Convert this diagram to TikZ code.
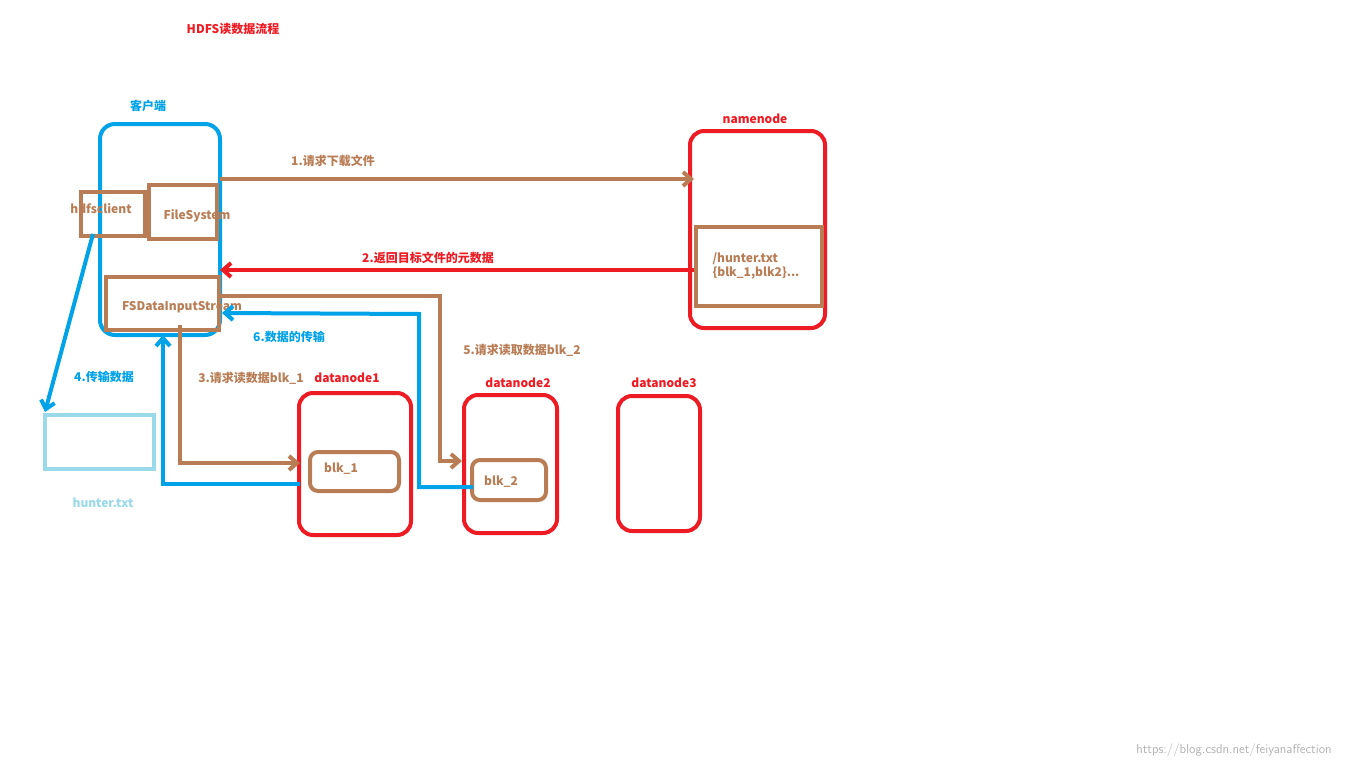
\documentclass[tikz,border=0pt]{standalone}
\usepackage{fontspec}
\setmainfont{Liberation Mono}
\newfontfamily\cjk{Noto Sans CJK SC}
\usetikzlibrary{arrows.meta}
\definecolor{br}{RGB}{185,125,85}
\definecolor{bl}{RGB}{0,162,232}
\definecolor{rd}{RGB}{237,28,36}
\definecolor{lb}{RGB}{153,217,234}
\begin{document}
\begin{tikzpicture}[x=1pt,y=-1pt,
 lbl/.style={font=\cjk\bfseries\fontsize{12}{14}\selectfont,inner sep=0pt},
 bx/.style={draw=br,line width=4pt},
 rbox/.style={draw=rd,line width=4pt,rounded corners=14pt},
 arr/.style={line width=4pt,-{Straight Barb[length=8pt,width=14pt]}}]
\useasboundingbox[fill=white] (0,0) rectangle (1366,768);
\node[lbl,text=rd] (title) at (233,29) {HDFS读数据流程};
\node[lbl,text=bl] (clab) at (148,106) {客户端};
\draw[draw=bl,line width=4pt,rounded corners=15pt] (100,124) rectangle (220,335);
\node[bx,minimum width=64pt,minimum height=44pt] (hc) at (113,214) {};
\node[lbl,text=br] at (101,209) {hdfsclient};
\node[bx,minimum width=68pt,minimum height=54pt] (fs) at (183,212) {};
\node[lbl,text=br] at (197,216) {FileSystem};
\node[bx,minimum width=113pt,minimum height=53pt] (fsd) at (162.5,303.5) {};
\node[lbl,text=br] at (182,307) {FSDataInputStream};
\node[rbox,minimum width=135pt,minimum height=197pt] (nn) at (757.5,229.5) {};
\node[lbl,text=rd] at (755,119) {namenode};
\node[bx,minimum width=126pt,minimum height=79pt] (ht) at (759,266.5) {};
\node[lbl,text=br,align=left] at (756,266) {/hunter.txt\\{\{}blk\_1,blk2{\}}...};
\node[rbox,minimum width=112pt,minimum height=142pt] (d1) at (355,464) {};
\node[lbl,text=rd] at (347,378) {datanode1};
\node[bx,rounded corners=8pt,minimum width=89pt,minimum height=39pt] (b1) at (354.5,471.5) {};
\node[lbl,text=br] at (341,469) {blk\_1};
\node[rbox,minimum width=93pt,minimum height=138pt] (d2) at (510.5,464) {};
\node[lbl,text=rd] at (518,383) {datanode2};
\node[bx,rounded corners=8pt,minimum width=74pt,minimum height=40pt] (b2) at (509,480) {};
\node[lbl,text=br] at (501,482) {blk\_2};
\node[rbox,minimum width=82pt,minimum height=135pt] (d3) at (659,463.5) {};
\node[lbl,text=rd] at (664,383) {datanode3};
\node[draw=lb,line width=4pt,minimum width=109pt,minimum height=54pt] (hf) at (99.5,442) {};
\node[lbl,text=lb] at (103,503) {hunter.txt};
\node[font=\fontsize{13}{15}\selectfont\sffamily,text=gray!60] at (1234,750) {https://blog.csdn.net/feiyanaffection};
% arrows
\coordinate (a1s) at (220,179); \coordinate (a1e) at (694,179);
\draw[arr,draw=br] (a1s) -- (a1e);
\node[lbl,text=br] at (333,161) {1.请求下载文件};
\coordinate (a2s) at (694,270); \coordinate (a2e) at (220,270);
\draw[arr,draw=rd] (a2s) -- (a2e);
\node[lbl,text=rd] at (428,258) {2.返回目标文件的元数据};
\coordinate (a3s) at (180,325); \coordinate (a3e) at (300,463);
\draw[arr,draw=br] (a3s) |- (a3e);
\node[lbl,text=br] at (251,378) {3.请求读数据blk\_1};
\coordinate (a4s) at (93,234); \coordinate (a4e) at (45,412);
\draw[arr,draw=bl] (a4s) -- (a4e);
\node[lbl,text=bl] at (104,377) {4.传输数据};
\coordinate (a7s) at (300,484); \coordinate (a7e) at (163,335);
\draw[arr,draw=bl] (a7s) -| (a7e);
\coordinate (a5s) at (219,296); \coordinate (a5m) at (440,296); \coordinate (a5e) at (462,461);
\draw[arr,draw=br] (a5s) -- (a5m) |- (a5e);
\node[lbl,text=br] at (522,350) {5.请求读取数据blk\_2};
\coordinate (a6s) at (473,487); \coordinate (a6m) at (419,487); \coordinate (a6n) at (419,314); \coordinate (a6e) at (222,313);
\draw[arr,draw=bl] (a6s) -- (a6m) -- (a6n) -- (a6e);
\node[lbl,text=bl] at (289,337) {6.数据的传输};
\end{tikzpicture}
\end{document}
